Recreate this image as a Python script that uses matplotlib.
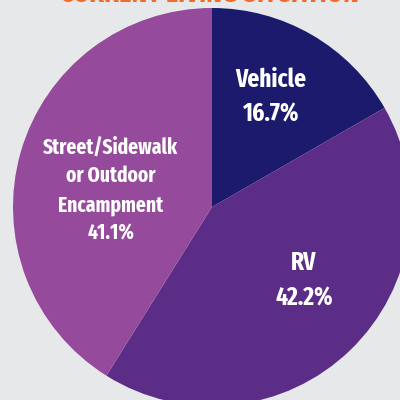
import matplotlib
matplotlib.use("Agg")
import matplotlib.pyplot as plt
from matplotlib import font_manager

categories = ["Vehicle", "RV", "Street/Sidewalk\nor Outdoor\nEncampment"]
values = [16.7, 42.2, 41.1]
colors = ["#1b1a6d", "#5c2d86", "#964a9b"]
title = "CURRENT LIVING SITUATION"

names = {f.name for f in font_manager.fontManager.ttflist}
cands = ["Fira Sans Condensed", "Barlow Semi Condensed", "Roboto Condensed", "Roboto"]
title_fam = next(c for c in cands if c in names)
if "Fira Sans Extra Condensed" in names:
    fam, big, small = "Fira Sans Extra Condensed", 18.3, 15.3
else:
    fam, big, small = title_fam, 16.3, 13.5

bg = "#e7e8e9"
fig = plt.figure(figsize=(4, 4), dpi=100, facecolor=bg)
ax = fig.add_axes([0, 0, 1, 1])
ax.set_facecolor(bg)

cx, cy, r = 212, 400 - 207, 199
ax.pie(values, colors=colors, startangle=90, counterclock=False,
       center=(cx, cy), radius=r, frame=True,
       wedgeprops=dict(linewidth=0))
ax.set_xlim(0, 400)
ax.set_ylim(0, 400)
ax.set_aspect("auto")
ax.axis("off")

# per label: x centre, baselines (pixels from top) of each line, font size
layout = [
    (271, [86.7, 121.7], big),
    (304, [270, 305], big),
    (111, [154, 182, 212, 239], small),
]
for cat, v, (x, bases, fs) in zip(categories, values, layout):
    lines = cat.split("\n") + [f"{v:.1f}%"]
    for line, b in zip(lines, bases):
        ax.text(x, 400 - b, line, ha="center", va="baseline",
                color="white", fontsize=fs, fontweight="bold", family=fam)

ax.text(209, 400 - 2.5, title, ha="center", va="baseline", color="#f26a2a",
        fontsize=19, fontweight="bold", family=title_fam)

fig.savefig("out.png", dpi=100, facecolor=bg)
